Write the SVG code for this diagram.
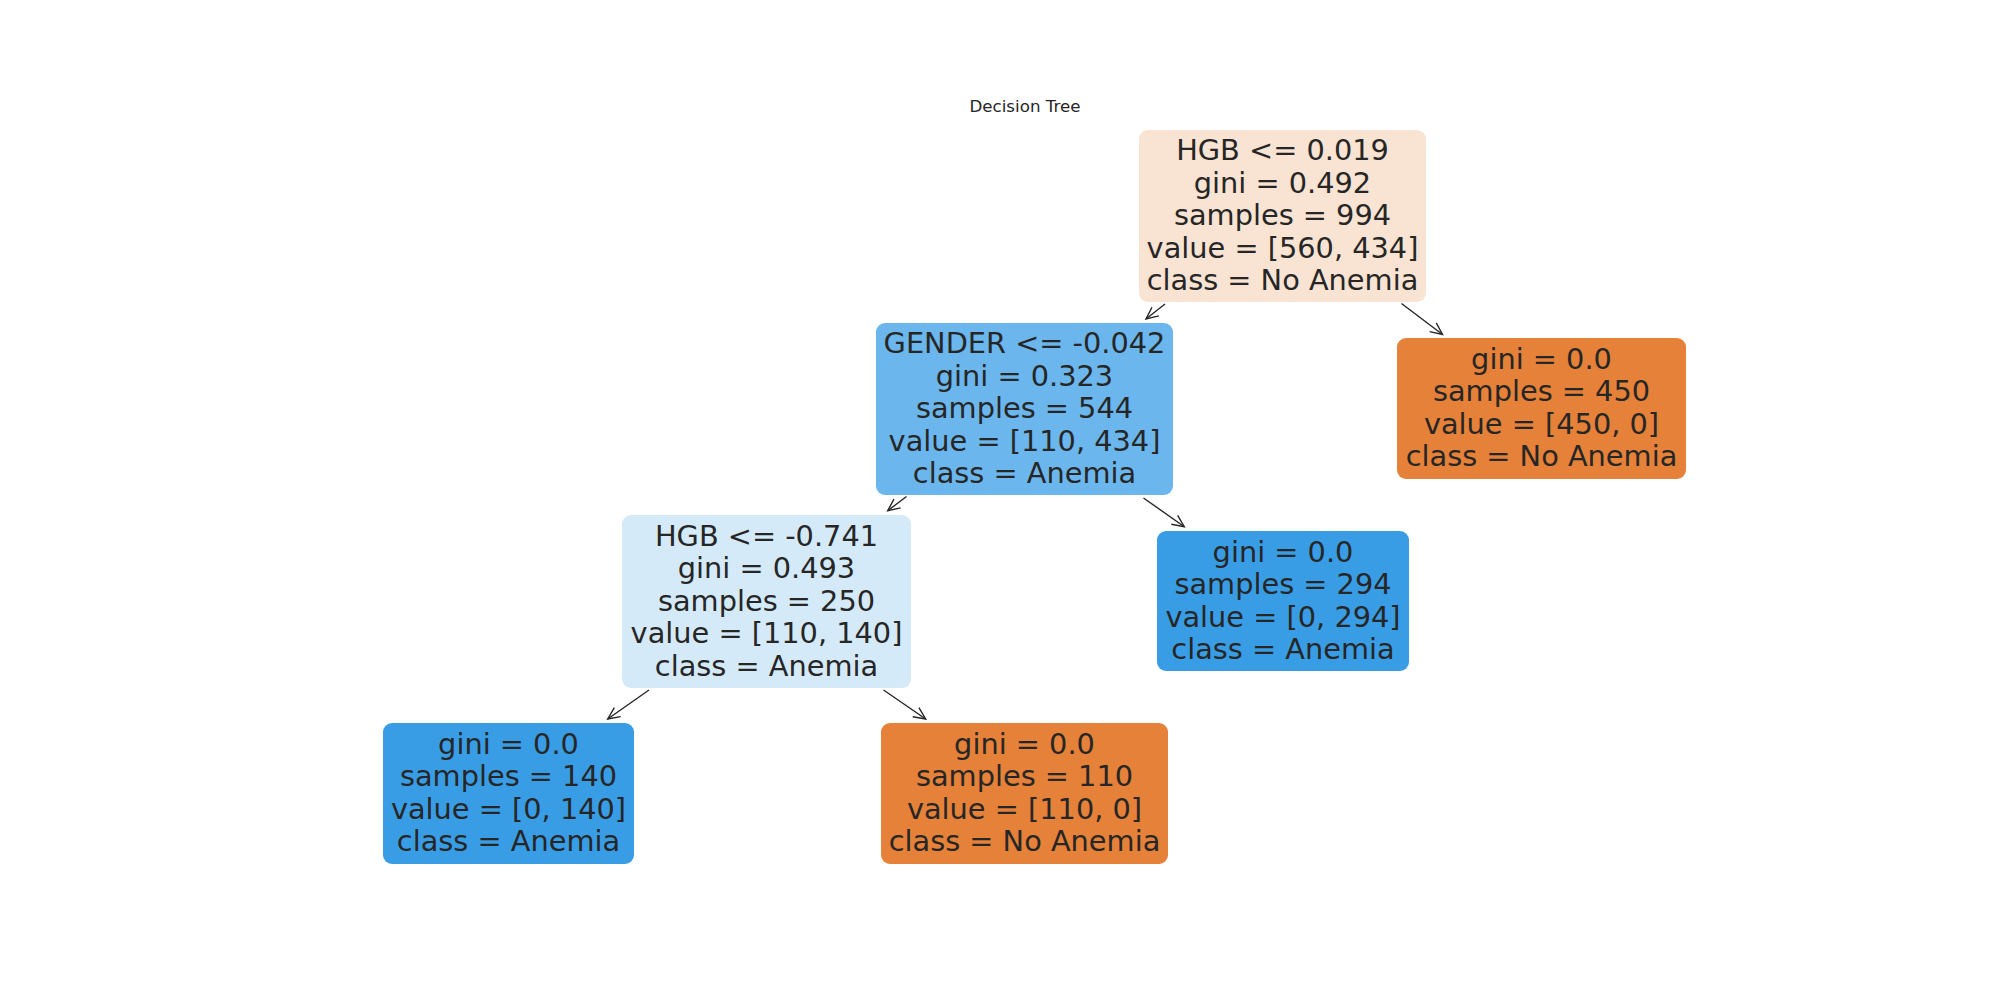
<svg xmlns="http://www.w3.org/2000/svg" width="2000" height="1000" viewBox="0 0 2000 1000">
  <defs>
    <style>
      .t { font-family: "DejaVu Sans", "Liberation Sans", sans-serif; font-size: 28.8px; fill: #262626; text-anchor: middle; }
      .title { font-family: "DejaVu Sans", "Liberation Sans", sans-serif; font-size: 16.7px; fill: #262626; text-anchor: middle; }
      .edge { stroke: #262626; stroke-width: 1.4; fill: none; marker-end: url(#arr); }
    </style>
    <marker id="arr" markerUnits="userSpaceOnUse" markerWidth="30" markerHeight="30" viewBox="-15 -15 30 30" refX="0" refY="0" orient="auto">
      <path d="M -12 -5.5 L 0 0 L -12 5.5" fill="none" stroke="#262626" stroke-width="1.4"/>
    </marker>
  </defs>
  <rect width="2000" height="1000" fill="#ffffff"/>
  <text class="title" x="1025" y="112">Decision Tree</text>

  <g id="connectors">
    <line class="edge" x1="1165" y1="304" x2="1146" y2="319"/>
    <line class="edge" x1="1401.5" y1="303.5" x2="1442.5" y2="334.5"/>
    <line class="edge" x1="906.5" y1="496.5" x2="887.7" y2="510.7"/>
    <line class="edge" x1="1143.5" y1="498" x2="1184.3" y2="526.7"/>
    <line class="edge" x1="649" y1="690" x2="607.7" y2="719"/>
    <line class="edge" x1="883.5" y1="690" x2="925.7" y2="719"/>
  </g>

  <g id="node-root">
    <rect x="1139" y="130" width="287" height="172" rx="9" fill="#f9e3d2"/>
    <text class="t" x="1282.5" y="160">HGB &lt;= 0.019</text>
    <text class="t" x="1282.5" y="192.5">gini = 0.492</text>
    <text class="t" x="1282.5" y="225">samples = 994</text>
    <text class="t" x="1282.5" y="257.5">value = [560, 434]</text>
    <text class="t" x="1282.5" y="290">class = No Anemia</text>
  </g>

  <g id="node-gender">
    <rect x="876" y="323" width="297" height="172" rx="9" fill="#6bb6ec"/>
    <text class="t" x="1024.5" y="353">GENDER &lt;= -0.042</text>
    <text class="t" x="1024.5" y="385.5">gini = 0.323</text>
    <text class="t" x="1024.5" y="418">samples = 544</text>
    <text class="t" x="1024.5" y="450.5">value = [110, 434]</text>
    <text class="t" x="1024.5" y="483">class = Anemia</text>
  </g>

  <g id="node-leaf-450">
    <rect x="1397" y="338" width="289" height="141" rx="9" fill="#e58139"/>
    <text class="t" x="1541.5" y="368.5">gini = 0.0</text>
    <text class="t" x="1541.5" y="401">samples = 450</text>
    <text class="t" x="1541.5" y="433.5">value = [450, 0]</text>
    <text class="t" x="1541.5" y="466">class = No Anemia</text>
  </g>

  <g id="node-hgb2">
    <rect x="622" y="515" width="289" height="173" rx="9" fill="#d5eaf9"/>
    <text class="t" x="766.5" y="545.5">HGB &lt;= -0.741</text>
    <text class="t" x="766.5" y="578">gini = 0.493</text>
    <text class="t" x="766.5" y="610.5">samples = 250</text>
    <text class="t" x="766.5" y="643">value = [110, 140]</text>
    <text class="t" x="766.5" y="675.5">class = Anemia</text>
  </g>

  <g id="node-leaf-294">
    <rect x="1157" y="531" width="252" height="140" rx="9" fill="#399de5"/>
    <text class="t" x="1283" y="561.5">gini = 0.0</text>
    <text class="t" x="1283" y="594">samples = 294</text>
    <text class="t" x="1283" y="626.5">value = [0, 294]</text>
    <text class="t" x="1283" y="659">class = Anemia</text>
  </g>

  <g id="node-leaf-140">
    <rect x="383" y="723" width="251" height="141" rx="9" fill="#399de5"/>
    <text class="t" x="508.5" y="753.5">gini = 0.0</text>
    <text class="t" x="508.5" y="786">samples = 140</text>
    <text class="t" x="508.5" y="818.5">value = [0, 140]</text>
    <text class="t" x="508.5" y="851">class = Anemia</text>
  </g>

  <g id="node-leaf-110">
    <rect x="881" y="723" width="287" height="141" rx="9" fill="#e58139"/>
    <text class="t" x="1024.5" y="753.5">gini = 0.0</text>
    <text class="t" x="1024.5" y="786">samples = 110</text>
    <text class="t" x="1024.5" y="818.5">value = [110, 0]</text>
    <text class="t" x="1024.5" y="851">class = No Anemia</text>
  </g>
</svg>
